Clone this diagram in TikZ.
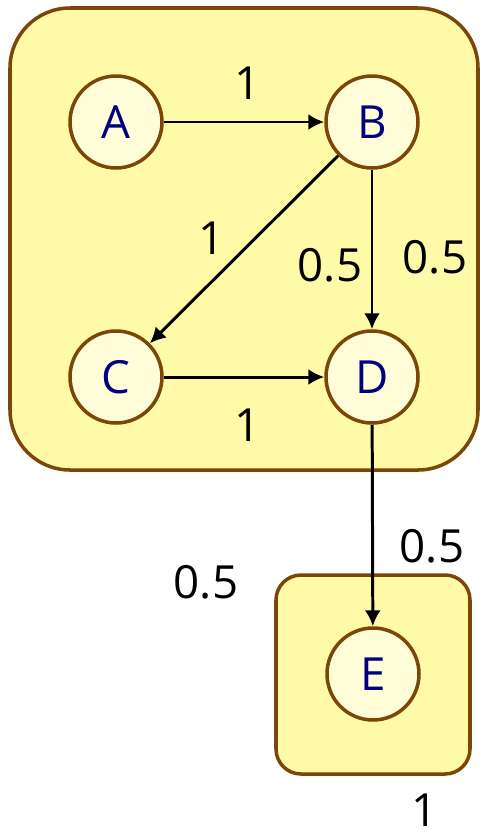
\documentclass[tikz,border=0pt]{standalone}
\usepackage{fontspec}
\setmainfont{Open Sans}
\usepackage{tikz}
\usetikzlibrary{arrows.meta}
\definecolor{boxfill}{HTML}{FFFAA8}
\definecolor{nodefill}{HTML}{FFFDD8}
\definecolor{brownline}{HTML}{7A4708}
\definecolor{navytext}{HTML}{000080}

\begin{document}
\begin{tikzpicture}[x=0.02cm,y=-0.02cm]
  \tikzset{groupbox/.style={draw=brownline,fill=boxfill,line width=2pt}}
  \tikzset{graphvertex/.style={circle,draw=brownline,fill=nodefill,line width=2pt,minimum size=1.84cm,inner sep=0pt,text=navytext,font=\fontsize{26}{30}\selectfont}}
  \tikzset{graphedge/.style={draw=black,line width=1.7pt,-{Latex[length=9pt,width=9pt]}}}
  \tikzset{edgelabel/.style={font=\fontsize{26}{30}\selectfont,inner sep=0pt,text=black}}
  \useasboundingbox (0,0) rectangle (480,839);
  \draw[groupbox,rounded corners=1.2cm] (10,8) rectangle (478,470);
  \draw[groupbox,rounded corners=0.5cm] (276,575) rectangle (470,774);
  \node[graphvertex] (A) at (116,122) {A};
  \node[graphvertex] (B) at (372,122) {B};
  \node[graphvertex] (C) at (116,377) {C};
  \node[graphvertex] (D) at (372,377) {D};
  \node[graphvertex] (E) at (373,674) {E};
  \draw[graphedge] (A) -- (B);
  \node[edgelabel] (lab) at (248,83) {1};
  \draw[graphedge] (B) -- (C);
  \node[edgelabel] (lbc) at (212,238) {1};
  \draw[graphedge] (B) -- (D);
  \node[edgelabel] (lbd) at (330,265) {0.5};
  \node[edgelabel] (lbb) at (435,257) {0.5};
  \draw[graphedge] (C) -- (D);
  \node[edgelabel] (lcd) at (248,425) {1};
  \draw[graphedge] (D) -- (E);
  \node[edgelabel] (lde) at (432,546) {0.5};
  \node[edgelabel] (ldd) at (206,582) {0.5};
  \node[edgelabel] (lee) at (425,810) {1};
\end{tikzpicture}
\end{document}
